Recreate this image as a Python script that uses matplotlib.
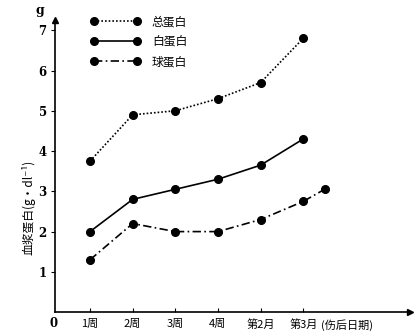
import matplotlib.pyplot as plt

plt.rcParams["font.family"] = ["Noto Sans CJK SC", "DejaVu Sans"]

# --- DATA ---------------------------------------------------------------------
x_labels = ["1周", "2周", "3周", "4周", "第2月", "第3月"]
x_pos = [1, 2, 3, 4, 5, 6]
total_protein = [3.75, 4.9, 5.0, 5.3, 5.7, 6.8]
albumin = [2.0, 2.8, 3.05, 3.3, 3.65, 4.3]
globulin_x = [1, 2, 3, 4, 5, 6, 6.5]
globulin = [1.3, 2.2, 2.0, 2.0, 2.3, 2.75, 3.05]
y_ticks = [1, 2, 3, 4, 5, 6, 7]

# --- PLOT ---------------------------------------------------------------------
fig = plt.figure(figsize=(4.2, 3.36), dpi=100)
ax = fig.add_axes([0.131, 0.071, 0.845, 0.869])

style = dict(color="black", marker="o", markersize=5.5, linewidth=1.2)
l1, = ax.plot(x_pos, total_protein, linestyle=(0, (1, 1.2)), label="总蛋白", **style)
l2, = ax.plot(x_pos, albumin, linestyle="-", label="白蛋白", **style)
l3, = ax.plot(globulin_x, globulin, linestyle=(0, (5, 2, 1, 2)), label="球蛋白", **style)

ax.set_xlim(0.18, 8.5)
ax.set_ylim(0, 7.25)

ax.spines["top"].set_visible(False)
ax.spines["right"].set_visible(False)
ax.spines["left"].set_linewidth(1.2)
ax.spines["bottom"].set_linewidth(1.2)

# axis arrows
ax.plot(0, 1, marker="^", color="black", markersize=5, transform=ax.transAxes, clip_on=False)
ax.plot(1, 0, marker=">", color="black", markersize=5, transform=ax.transAxes, clip_on=False)

ax.set_xticks(x_pos)
ax.set_xticklabels(x_labels, fontsize=8)
ax.tick_params(axis="x", direction="in", length=3, pad=5)
ax.set_yticks(y_ticks)
ax.set_yticklabels([str(v) for v in y_ticks], fontsize=8.5, fontweight="bold",
                   family="DejaVu Serif")
ax.tick_params(axis="y", direction="out", length=3, pad=3)

ax.text(-0.005, -0.015, "0", transform=ax.transAxes, ha="center", va="top",
        fontsize=8.5, family="DejaVu Serif", fontweight="bold")
ax.text(0.75, -0.025, "(伤后日期)", transform=ax.transAxes, ha="left", va="top",
        fontsize=8)
ax.text(-0.042, 1.034, "g", transform=ax.transAxes, ha="center", va="center",
        fontsize=9, fontweight="bold", family="DejaVu Serif")

ax.set_ylabel("血浆蛋白(g·dl⁻¹)", fontsize=8.5, labelpad=8)
ax.yaxis.set_label_coords(-0.055, 0.36)

ax.legend(handles=[l1, l2, l3], loc="upper left", bbox_to_anchor=(0.07, 1.053),
          frameon=False, numpoints=2, handlelength=4.2, handletextpad=1.0,
          labelspacing=0.6, fontsize=8.5)

fig.savefig("out.png", dpi=100)
